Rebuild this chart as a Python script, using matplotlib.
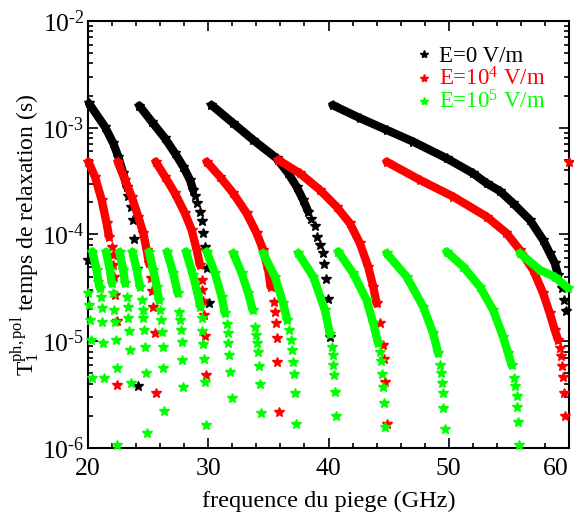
import matplotlib
matplotlib.use("Agg")
import matplotlib.pyplot as plt
from matplotlib.lines import Line2D
from matplotlib.ticker import MultipleLocator, LogLocator, FuncFormatter, FixedLocator
import numpy as np

plt.rcParams["font.family"] = ["Liberation Serif", "DejaVu Serif"]
plt.rcParams["mathtext.fontset"] = "custom"
plt.rcParams["mathtext.rm"] = "Liberation Serif"
plt.rcParams["mathtext.it"] = "Liberation Serif:italic"

# E = 0 V/m (noir) : partie dense (band) puis points isoles (tail)
k0_tf = [20.02]
k0_tt = [5.8e-5]
k1_f = [20.08, 21.41, 22.10, 22.52, 22.93, 23.22]
k1_t = [1.69e-3, 1.02e-3, 7.15e-4, 5.35e-4, 3.74e-4, 2.80e-4]
k1_tf = [23.35, 23.55, 23.72, 23.85, 24.05, 24.18]
k1_tt = [2.3e-4, 1.82e-4, 1.37e-4, 9.1e-5, 4.75e-5, 3.8e-6]
k2_f = [24.26, 25.30, 26.40, 27.23, 27.92, 28.48, 28.75]
k2_t = [1.61e-3, 1.14e-3, 7.96e-4, 5.77e-4, 4.32e-4, 3.24e-4, 2.61e-4]
k2_tf = [28.89, 29.09, 29.31, 29.45, 29.58, 29.73, 29.89, 30.10]
k2_tt = [2.3e-4, 1.96e-4, 1.64e-4, 1.34e-4, 1.04e-4, 7.7e-5, 4.9e-5, 2.26e-5]
k3_f = [30.27, 32.08, 33.74, 35.69, 36.65, 37.35, 37.90, 38.31]
k3_t = [1.63e-3, 1.10e-3, 7.67e-4, 5.17e-4, 3.74e-4, 2.80e-4, 2.10e-4, 1.64e-4]
k3_tf = [38.58, 38.87, 39.06, 39.29, 39.51, 39.64, 39.78, 39.95, 40.12]
k3_tt = [1.40e-4, 1.20e-4, 9.5e-5, 7.97e-5, 6.67e-5, 5.3e-5, 3.83e-5, 2.47e-5, 1.1e-5]
k4_f = [40.34, 42.61, 44.83, 47.04, 49.82, 52.00, 53.14, 54.25, 55.35, 56.74, 57.85,
        58.40, 58.82, 59.09]
k4_t = [1.63e-3, 1.23e-3, 9.53e-4, 7.40e-4, 5.17e-4, 3.75e-4, 3.02e-4, 2.55e-4,
        1.96e-4, 1.37e-4, 8.87e-5, 6.67e-5, 5.37e-5, 4.18e-5]
k4_tf = [59.38, 59.59, 59.76]
k4_tt = [3.13e-5, 2.43e-5, 1.9e-5]

# E = 1e4 V/m (rouge)
r1_f = [20.04, 20.58, 21.14, 21.55, 21.75]
r1_t = [4.78e-4, 3.48e-4, 2.10e-4, 1.27e-4, 9.5e-5]
r1_tf = [21.97, 22.04, 22.10, 22.18, 22.27, 22.39, 22.44]
r1_tt = [7.7e-5, 6.43e-5, 5.15e-5, 3.96e-5, 2.73e-5, 1.56e-5, 3.85e-6]
r2_f = [22.47, 23.08, 23.63, 24.18, 24.60, 24.88, 25.07]
r2_t = [4.8e-4, 3.24e-4, 2.26e-4, 1.47e-4, 1.03e-4, 7.16e-5, 5.37e-5]
r2_tf = [25.21, 25.34, 25.43, 25.54, 25.63]
r2_tt = [3.89e-5, 2.98e-5, 2.08e-5, 1.19e-5, 3.25e-6]
r3_f = [25.63, 26.40, 27.23, 28.06, 28.62, 29.04, 29.31]
r3_t = [4.8e-4, 3.48e-4, 2.43e-4, 1.58e-4, 1.10e-4, 7.16e-5, 5.18e-5]
r3_tf = [29.45, 29.52, 29.59, 29.67, 29.77, 29.83]
r3_tt = [3.75e-5, 3.05e-5, 2.38e-5, 1.76e-5, 1.11e-5, 4.8e-6]
r4_f = [29.87, 30.97, 32.08, 33.19, 34.02, 34.57, 34.99, 35.19]
r4_t = [4.8e-4, 3.48e-4, 2.43e-4, 1.58e-4, 1.03e-4, 7.16e-5, 4.65e-5, 3.24e-5]
r4_tf = [35.46, 35.54, 35.63, 35.68, 35.75, 35.86]
r4_tt = [2.34e-5, 1.89e-5, 1.49e-5, 1.07e-5, 6.35e-6, 2.17e-6]
r5_f = [35.82, 37.62, 39.29, 40.67, 41.78, 42.61, 43.30, 43.72, 44.00]
r5_t = [4.99e-4, 3.74e-4, 2.61e-4, 1.82e-4, 1.27e-4, 8.27e-5, 4.99e-5, 3.24e-5, 2.26e-5]
r5_tf = [44.27, 44.50, 44.61, 44.71, 44.83]
r5_tt = [1.47e-5, 9.2e-6, 6.78e-6, 4.18e-6, 1.68e-6]
r6_f = [44.83, 47.60, 50.37, 53.14, 54.80, 55.91, 57.02, 57.85, 58.40, 58.82, 59.09]
r6_t = [4.8e-4, 3.24e-4, 2.26e-4, 1.47e-4, 1.03e-4, 7.16e-5, 4.65e-5, 2.81e-5,
        1.83e-5, 1.27e-5, 1.03e-5]
r6_tf = [59.24, 59.32, 59.43, 59.51, 59.57, 59.65]
r6_tt = [8.6e-6, 7.3e-6, 5.9e-6, 4.66e-6, 3.3e-6, 2.0e-6]
r7_tf = [60.0]
r7_tt = [4.8e-4]

# E = 1e5 V/m (vert)
g0_tf = [20.02, 20.11, 20.19, 20.27, 20.36]
g0_tt = [2.81e-5, 2.19e-5, 1.58e-5, 1.02e-5, 4.53e-6]
g1_f = [20.37, 20.72, 20.86, 21.00]
g1_t = [6.9e-5, 4.65e-5, 3.61e-5, 3.13e-5]
g1_tf = [21.08, 21.14, 21.19, 21.27, 21.33]
g1_tt = [2.6e-5, 2.04e-5, 1.53e-5, 9.7e-6, 4.5e-6]
g2_f = [21.50, 21.83, 21.97]
g2_t = [6.85e-5, 4.65e-5, 3.49e-5]
g2_tf = [22.10, 22.16, 22.24, 22.30, 22.39, 22.44]
g2_tt = [2.81e-5, 1.96e-5, 1.53e-5, 1.03e-5, 5.6e-6, 1.07e-6]
g3_f = [22.62, 22.93, 23.08]
g3_t = [6.85e-5, 4.65e-5, 3.49e-5]
g3_tf = [23.22, 23.30, 23.35, 23.41, 23.49, 23.57]
g3_tt = [2.61e-5, 2.11e-5, 1.64e-5, 1.26e-5, 8.3e-6, 4.04e-6]
g4_f = [23.70, 24.05, 24.32]
g4_t = [6.85e-5, 4.65e-5, 3.24e-5]
g4_tf = [24.46, 24.55, 24.60, 24.68, 24.74, 24.82, 24.93]
g4_tt = [2.43e-5, 1.96e-5, 1.64e-5, 1.27e-5, 8.8e-6, 5.0e-6, 1.39e-6]
g5_f = [25.07, 25.43, 25.71, 25.90]
g5_t = [6.85e-5, 4.65e-5, 3.24e-5, 2.43e-5]
g5_tf = [25.99, 26.04, 26.13, 26.21, 26.26, 26.34]
g5_tt = [1.96e-5, 1.58e-5, 1.23e-5, 8.9e-6, 5.6e-6, 2.23e-6]
g6_f = [26.57, 27.09, 27.46]
g6_t = [6.85e-5, 4.33e-5, 2.81e-5]
g6_tf = [27.59, 27.65, 27.73, 27.79, 27.84, 27.92]
g6_tt = [1.89e-5, 1.58e-5, 1.27e-5, 9.9e-6, 6.7e-6, 3.75e-6]
g7_f = [28.15, 28.73, 29.14, 29.35]
g7_t = [6.9e-5, 4.18e-5, 2.71e-5, 2.09e-5]
g7_tf = [29.45, 29.52, 29.58, 29.67, 29.73, 29.83]
g7_tt = [1.65e-5, 1.25e-5, 9.4e-6, 6.8e-6, 4.18e-6, 1.64e-6]
g8_f = [29.87, 30.56, 31.11, 31.39]
g8_t = [6.9e-5, 4.33e-5, 2.61e-5, 1.83e-5]
g8_tf = [31.53, 31.61, 31.66, 31.75, 31.83, 31.95]
g8_tt = [1.45e-5, 1.2e-5, 9.7e-6, 7.4e-6, 5.2e-6, 2.96e-6]
g9_f = [32.08, 32.78, 33.33, 33.69]
g9_t = [6.67e-5, 4.33e-5, 2.81e-5, 1.96e-5]
g9_tf = [33.88, 33.97, 34.07, 34.16, 34.24, 34.32, 34.41]
g9_tt = [1.37e-5, 1.15e-5, 9.6e-6, 7.9e-6, 5.9e-6, 3.98e-6, 2.11e-6]
g10_f = [34.57, 35.54, 36.23, 36.57]
g10_t = [6.67e-5, 4.03e-5, 2.26e-5, 1.58e-5]
g10_tf = [36.73, 36.85, 36.98, 37.07, 37.15, 37.21, 37.29]
g10_tt = [1.27e-5, 1.03e-5, 8.3e-6, 6.43e-6, 4.93e-6, 3.25e-6, 1.68e-6]
g11_f = [37.48, 38.73, 39.70, 40.12]
g11_t = [6.67e-5, 4.03e-5, 1.96e-5, 1.17e-5]
g11_tf = [40.26, 40.34, 40.39, 40.45, 40.53, 40.62]
g11_tt = [8.9e-6, 7.4e-6, 6.0e-6, 4.78e-6, 3.35e-6, 2.01e-6]
g12_f = [40.81, 42.05, 43.17, 43.72, 44.13]
g12_t = [6.9e-5, 4.33e-5, 2.43e-5, 1.47e-5, 9.6e-6]
g12_tf = [44.30, 44.38, 44.46, 44.55, 44.63, 44.71]
g12_tt = [7.9e-6, 6.5e-6, 4.9e-6, 3.75e-6, 2.65e-6, 1.58e-6]
g13_f = [44.83, 46.49, 47.87, 48.70, 49.12]
g13_t = [6.67e-5, 4.03e-5, 2.11e-5, 1.19e-5, 7.7e-6]
g13_tf = [49.26, 49.34, 49.40, 49.49, 49.53, 49.68]
g13_tt = [6.0e-6, 5.0e-6, 4.09e-6, 3.25e-6, 2.39e-6, 1.51e-6]
g14_f = [49.82, 51.20, 52.59, 53.69, 54.52, 54.94, 55.22]
g14_t = [6.9e-5, 4.99e-5, 3.24e-5, 1.96e-5, 1.10e-5, 7.7e-6, 6.0e-6]
g14_tf = [55.41, 55.55, 55.64, 55.69, 55.79, 55.85]
g14_tt = [4.5e-6, 3.8e-6, 3.1e-6, 2.42e-6, 1.75e-6, 1.07e-6]
g15_f = [55.91, 57.57, 58.83, 59.93]
g15_t = [6.67e-5, 4.65e-5, 4.0e-5, 3.13e-5]

x_ticks = [20, 30, 40, 50, 60]
y_ticks = [1e-6, 1e-5, 1e-4, 1e-3, 1e-2]

series = [
    ("black", "E=0 V/m",
     [(k1_f, k1_t), (k2_f, k2_t), (k3_f, k3_t), (k4_f, k4_t)],
     [(k0_tf, k0_tt), (k1_tf, k1_tt), (k2_tf, k2_tt), (k3_tf, k3_tt), (k4_tf, k4_tt)]),
    ("#ff0000", r"E=10$^4$ V/m",
     [(r1_f, r1_t), (r2_f, r2_t), (r3_f, r3_t), (r4_f, r4_t), (r5_f, r5_t), (r6_f, r6_t)],
     [(r1_tf, r1_tt), (r2_tf, r2_tt), (r3_tf, r3_tt), (r4_tf, r4_tt), (r5_tf, r5_tt),
      (r6_tf, r6_tt), (r7_tf, r7_tt)]),
    ("#00ff00", r"E=10$^5$ V/m",
     [(g1_f, g1_t), (g2_f, g2_t), (g3_f, g3_t), (g4_f, g4_t), (g5_f, g5_t), (g6_f, g6_t),
      (g7_f, g7_t), (g8_f, g8_t), (g9_f, g9_t), (g10_f, g10_t), (g11_f, g11_t),
      (g12_f, g12_t), (g13_f, g13_t), (g14_f, g14_t), (g15_f, g15_t)],
     [(g0_tf, g0_tt), (g1_tf, g1_tt), (g2_tf, g2_tt), (g3_tf, g3_tt), (g4_tf, g4_tt),
      (g5_tf, g5_tt), (g6_tf, g6_tt), (g7_tf, g7_tt), (g8_tf, g8_tt), (g9_tf, g9_tt),
      (g10_tf, g10_tt), (g11_tf, g11_tt), (g12_tf, g12_tt), (g13_tf, g13_tt),
      (g14_tf, g14_tt)]),
]

fig = plt.figure(figsize=(5.74, 5.17), dpi=100)
ax = fig.add_axes([0.1533, 0.1335, 0.838, 0.826])

handles = []
for z, (color, label, bands, tails) in enumerate(series):
    for f, t in bands:
        ax.plot(f, t, color=color, lw=6, marker="*", ms=7, mec=color,
                solid_capstyle="round", solid_joinstyle="round", zorder=2 + z,
                clip_on=False)
    for f, t in tails:
        ax.plot(f, t, ls="none", color=color, marker="*", ms=7, mec=color,
                zorder=2 + z, clip_on=False)
    handles.append(Line2D([], [], ls="none", marker="*", ms=6, color=color, label=label))

ax.set_yscale("log")
ax.set_xlim(20, 60)
ax.set_ylim(1e-6, 1e-2)
ax.xaxis.set_major_locator(FixedLocator(x_ticks))
ax.xaxis.set_minor_locator(MultipleLocator(2))
ax.yaxis.set_major_locator(FixedLocator(y_ticks))
ax.yaxis.set_minor_locator(LogLocator(base=10, subs=range(2, 10), numticks=20))
# exposant avec un tiret court, comme sur la figure d'origine
ax.yaxis.set_major_formatter(FuncFormatter(
    lambda v, pos: "$10^{\u2010%d}$" % round(-np.log10(v))))
ax.tick_params(which="both", direction="in", top=True, right=True, width=1.2)
ax.tick_params(which="major", length=7, labelsize=18.5)
ax.tick_params(axis="x", which="major", pad=7)
ax.tick_params(axis="y", which="major", pad=2.5)
ax.tick_params(which="minor", length=3.5)
for s in ax.spines.values():
    s.set_linewidth(1.5)

ax.set_xlabel("frequence du piege (GHz)", fontsize=17.5, labelpad=8)
ax.set_ylabel(r"T$_1^{\mathrm{ph,pol}}$ temps de relaxation (s)", fontsize=17)
ax.yaxis.set_label_coords(-0.095, 0.5)

fig.canvas.draw()
for lab in ax.get_xticklabels():
    if lab.get_text() == "60":
        lab.set_horizontalalignment("right")

leg = ax.legend(handles=handles, loc="upper left", bbox_to_anchor=(0.665, 0.962),
                frameon=False, fontsize=16.5, handlelength=0.6, handletextpad=0.35,
                labelspacing=0.0, borderaxespad=0)
for txt, h in zip(leg.get_texts(), handles):
    txt.set_color(h.get_color())

fig.savefig("out.png", dpi=100)
